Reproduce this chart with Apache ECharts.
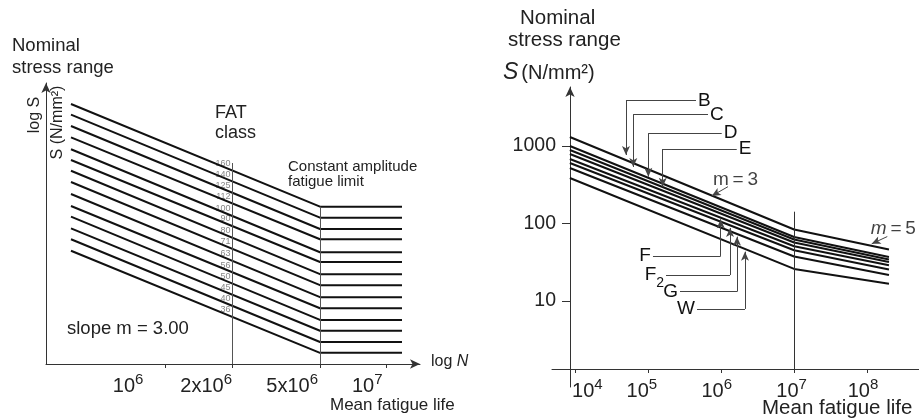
<!DOCTYPE html>
<html><head><meta charset="utf-8">
<script src="https://cdn.jsdelivr.net/npm/echarts@6/dist/echarts.min.js"></script>
<style>html,body{margin:0;padding:0;background:#fff}#c{width:919px;height:419px}</style>
</head><body><div id="c"></div>
<script>
const FONT = 'Liberation Sans, Arial, Helvetica, sans-serif';
const L = Math.log10;

// ---------- Left panel: FAT classes (schematic) ----------
const fatClasses = [160,140,125,112,100,90,80,71,63,56,50,45,40,36];
const fatStartN = 3.74e5;
const fatKneeN = 5e6;
const fatEndN = 1.174e7;
const fatRefN = 2e6;
const fatStartS = [335.7,301.0,268.3,239.0,211.6,189.7,170.1,151.6,134.2,118.7,106.5,94.6,84.6,75.3];
const fatKneeS  = [117.9,105.4,93.9,84.6,74.1,67.1,59.3,53.0,46.9,41.9,37.2,33.3,29.7,26.6];
const leftTickN = [1e6, 2e6, 5e6, 1e7];
const leftTickBase = ['10','2x10','5x10','10'];
const leftTickExp  = ['6','6','6','7'];
const leftLabelShift = [22, 0, 2, 4];   // label nudges (px)
const leftRefLineTopS = 184;   // top of the 2x10^6 reference line

// ---------- Right panel: class curves ----------
const classNames = ['B','C','D','E','F','F2','G','W'];
const curveN = [8.4e3, 1e7, 2e8];
const rightStartS = [1306, 1000, 888, 788, 680, 604, 520, 386];
const rightKneeS  = [83.7, 67.0, 62.2, 56.9, 50.8, 45.1, 37.5, 25.9];
const rightEndS   = [46.2, 37.0, 34.3, 31.8, 28.9, 25.4, 21.6, 16.7];
const rightTickN = [1e4, 1e5, 1e6, 1e7, 1e8];
const rightLabelShift = [24, -13, -9, -5, -8];   // label nudges (px)
const rightTickS = [10, 100, 1000];
const rightKneeLineTopS = 141.9;

// leader lines: vertical at leaderN from tipS to elbowS, then horizontal to endN
const leaderN = [4.94e4, 6.22e4, 1.0e5, 1.578e5, 9.84e5, 1.321e6, 1.648e6, 2.118e6];
const leaderTipS = [765, 536, 402, 298.5, 113.2, 87.5, 67.6, 43.3];
const leaderElbowS = [3842, 2565, 1459, 914, 38.1, 21.6, 13.2, 7.89];
const leaderEndN = [4.51e5, 6.59e5, 1.016e6, 1.633e6, 1.159e5, 1.75e5, 2.72e5, 4.66e5];

// slope annotations
const slopeTextN = [1.57e6, 2.30e8];
const slopeTextS = [364, 86.7];
const slopeFromN = [1.239e6, 1.897e8];
const slopeFromS = [298.5, 67.8];
const slopeTipN = [7.41e5, 1.159e8];
const slopeTipS = [226.5, 54.6];

const leftX = {min: 5.45993, max: 7.15117};
const leftY = {min: 1.3755, max: 2.6188};
const rightX = {min: 3.679, max: 8.713};
const rightY = {min: -0.110, max: 3.761};
const rightAxisOffset = 18;
const gridRH = 300;
const rightXAxisLogS = rightY.min + rightAxisOffset / gridRH * (rightY.max - rightY.min);

function supRich(shifts) {
  const r = {
    b: {fontSize: 20, lineHeight: 28, fontFamily: FONT, color: '#222'},
    s: {fontSize: 15, lineHeight: 12, verticalAlign: 'top', fontFamily: FONT, color: '#222'}
  };
  shifts.forEach(v => { r['w' + Math.abs(v)] = {width: Math.abs(v), fontSize: 10, lineHeight: 28}; });
  return r;
}
function findIdx(arr, v){ for (let i=0;i<arr.length;i++){ if (Math.abs(L(arr[i])-v) < 1e-6) return i; } return -1; }
function spacer(w){ return w ? '{w' + Math.abs(w) + '| }' : ''; }

const series = [];
// left lines
fatClasses.forEach((f, i) => {
  series.push({
    type: 'line', xAxisIndex: 0, yAxisIndex: 0, symbol: 'none', silent: true, z: 3,
    lineStyle: {color: '#111', width: 2},
    data: [[L(fatStartN), L(fatStartS[i])], [L(fatKneeN), L(fatKneeS[i])], [L(fatEndN), L(fatKneeS[i])]]
  });
});
// left reference verticals
series.push({
  type: 'line', xAxisIndex: 0, yAxisIndex: 0, symbol: 'none', silent: true,
  data: [[L(fatRefN), leftY.min]],
  markLine: {
    silent: true, symbol: ['none','none'], label: {show: false}, animation: false,
    lineStyle: {type: 'solid', width: 1, color: '#555'},
    data: [
      [{coord: [L(fatRefN), L(leftRefLineTopS)]}, {coord: [L(fatRefN), leftY.min]}],
      [{coord: [L(fatKneeN), L(fatKneeS[0])]}, {coord: [L(fatKneeN), leftY.min]}]
    ]
  }
});
// left FAT small labels
const tRef = (L(fatRefN) - L(fatStartN)) / (L(fatKneeN) - L(fatStartN));
series.push({
  type: 'scatter', xAxisIndex: 0, yAxisIndex: 0, symbolSize: 1, silent: true,
  itemStyle: {color: 'rgba(0,0,0,0)'},
  data: fatClasses.map((f, i) => [L(fatRefN), L(fatStartS[i]) + tRef * (L(fatKneeS[i]) - L(fatStartS[i]))]),
  label: {show: true, position: 'left', distance: 1, offset: [0, -7],
    formatter: p => String(fatClasses[p.dataIndex]), fontSize: 9, color: '#666', fontFamily: FONT}
});

// right curves
classNames.forEach((c, i) => {
  const vals = [rightStartS[i], rightKneeS[i], rightEndS[i]];
  series.push({
    type: 'line', xAxisIndex: 1, yAxisIndex: 1, symbol: 'none', silent: true, z: 3,
    lineStyle: {color: '#111', width: 2},
    data: curveN.map((n, j) => [L(n), L(vals[j])])
  });
});
// right annotations
const ml = [];
ml.push([{coord: [L(1e7), L(rightKneeLineTopS)], symbol: 'none'}, {coord: [L(1e7), rightXAxisLogS], symbol: 'none', lineStyle: {color: '#333', width: 1}}]);
const labelText = {B:'B', C:'C', D:'D', E:'E', F:'F', F2:'{a|F}{s|2}', G:'G', W:'W'};
classNames.forEach((c, i) => {
  ml.push([{coord: [L(leaderN[i]), L(leaderElbowS[i])], symbol: 'none'}, {coord: [L(leaderN[i]), L(leaderTipS[i])], symbol: 'arrow'}]);
  ml.push([{coord: [L(leaderN[i]), L(leaderElbowS[i])], symbol: 'none',
            label: {show: true, position: 'end', distance: 2, formatter: labelText[c], fontSize: 19, color: '#111', fontFamily: FONT,
              rich: {a: {fontSize: 19, lineHeight: 30, fontFamily: FONT, color: '#111'}, s: {fontSize: 14, lineHeight: 14, verticalAlign: 'bottom', fontFamily: FONT, color: '#111'}}}},
           {coord: [L(leaderEndN[i]), L(leaderElbowS[i])], symbol: 'none'}]);
});
slopeTextN.forEach((t, i) => {
  ml.push([{coord: [L(slopeFromN[i]), L(slopeFromS[i])], symbol: 'none'}, {coord: [L(slopeTipN[i]), L(slopeTipS[i])], symbol: 'arrow'}]);
});
series.push({
  type: 'line', xAxisIndex: 1, yAxisIndex: 1, symbol: 'none', silent: true,
  data: [[L(1e7), 0.5]],
  markLine: {
    silent: true, symbol: ['none','none'], symbolSize: [6, 9], label: {show: false}, animation: false,
    lineStyle: {type: 'solid', width: 1, color: '#444'},
    data: ml
  }
});
series.push({
  type: 'scatter', xAxisIndex: 1, yAxisIndex: 1, symbolSize: 1, silent: true,
  itemStyle: {color: 'rgba(0,0,0,0)'},
  data: slopeTextN.map((t, i) => [L(slopeTextN[i]), L(slopeTextS[i])]),
  label: {show: true, position: 'inside',
    formatter: p => p.dataIndex === 0 ? '{u|m\u2009=\u20093}' : '{i|m}{u|\u2009=\u20095}',
    rich: {u: {fontSize: 19, fontFamily: FONT, color: '#111'}, i: {fontSize: 19, fontStyle: 'italic', fontFamily: FONT, color: '#111'}}}
});

function txt(text, x, y, size, opts) {
  opts = opts || {};
  return Object.assign({
    type: 'text', x: x, y: y, silent: true,
    style: Object.assign({text: text, fontSize: size, fontFamily: FONT, fill: '#222',
      align: opts.align || 'left', textAlign: opts.align || 'left',
      verticalAlign: 'middle', textVerticalAlign: 'middle'}, opts.style || {})
  }, opts.el || {});
}

const graphics = [
  txt('Nominal', 12, 46, 18.5),
  txt('stress range', 12, 68, 18.5),
  txt('log S', 34.5, 115, 16, {align: 'center', el: {rotation: Math.PI / 2}}),
  txt('S (N/mm\u00b2)', 58, 122.5, 16, {align: 'center', el: {rotation: Math.PI / 2}}),
  txt('FAT', 215, 113, 18),
  txt('class', 215, 133, 18),
  txt('Constant amplitude', 288, 167, 15),
  txt('fatigue limit', 288, 181.5, 15),
  txt('slope m = 3.00', 67, 328.5, 18.5),
  txt('Mean fatigue life', 330, 405, 17),
  txt('{r|log }{i|N}', 431, 362, 16, {style: {rich: {r: {fontSize: 16, fontFamily: FONT, fill: '#222'}, i: {fontSize: 16, fontStyle: 'italic', fontFamily: FONT, fill: '#222'}}}}),
  txt('Nominal', 520, 18, 20.5),
  txt('stress range', 508, 40, 20.5),
  txt('{i|S}{r|(N/mm\u00b2)}', 503, 73, 20, {style: {rich: {i: {fontSize: 23, fontStyle: 'italic', fontFamily: FONT, fill: '#222', padding: [0, 3, 0, 0]}, r: {fontSize: 20, fontFamily: FONT, fill: '#222'}}}}),
  txt('Mean fatigue life', 762, 408, 20.5)
];

const option = {
  animation: false,
  backgroundColor: '#fff',
  textStyle: {fontFamily: FONT},
  grid: [
    {left: 46, top: 83, width: 374, height: 281, outerBoundsMode: 'none', containLabel: false},
    {left: 552, top: 87, width: 367, height: gridRH, outerBoundsMode: 'none', containLabel: false}
  ],
  xAxis: [
    {gridIndex: 0, type: 'value', min: leftX.min, max: leftX.max,
      axisLine: {onZero: false, lineStyle: {color: '#333', width: 1}, symbol: ['none', 'arrow'], symbolSize: [7, 10]},
      axisTick: {show: true, customValues: leftTickN.map(L), length: 4, lineStyle: {color: '#333'}},
      axisLabel: {customValues: leftTickN.map(L), align: 'right', margin: 8, rich: supRich(leftLabelShift),
        formatter: v => { const i = findIdx(leftTickN, v); return i < 0 ? '' : '{b|' + leftTickBase[i] + '}{s|' + leftTickExp[i] + '}' + spacer(leftLabelShift[i]); }},
      splitLine: {show: false}},
    {gridIndex: 1, type: 'value', min: rightX.min, max: rightX.max, offset: -rightAxisOffset,
      axisLine: {onZero: false, lineStyle: {color: '#333', width: 1}},
      axisTick: {show: true, customValues: rightTickN.map(L), length: 4, lineStyle: {color: '#333'}},
      axisLabel: {customValues: rightTickN.map(L), align: 'center', margin: 8, rich: supRich(rightLabelShift),
        formatter: v => { const i = findIdx(rightTickN, v); if (i < 0) return ''; const sh = rightLabelShift[i];
          const core = '{b|10}{s|' + Math.round(L(rightTickN[i])) + '}';
          return sh > 0 ? spacer(sh) + core : core + spacer(sh); }},
      splitLine: {show: false}}
  ],
  yAxis: [
    {gridIndex: 0, type: 'value', min: leftY.min, max: leftY.max,
      axisLine: {show: true, onZero: false, lineStyle: {color: '#333', width: 1}, symbol: ['none', 'arrow'], symbolSize: [7, 10]},
      axisTick: {show: false}, axisLabel: {show: false}, splitLine: {show: false}},
    {gridIndex: 1, type: 'value', min: rightY.min, max: rightY.max, offset: -rightAxisOffset,
      axisLine: {show: true, onZero: false, lineStyle: {color: '#333', width: 1}, symbol: ['none', 'arrow'], symbolSize: [7, 10]},
      axisTick: {show: true, customValues: rightTickS.map(L), length: 8, lineStyle: {color: '#333'}},
      axisLabel: {customValues: rightTickS.map(L), margin: 14, fontSize: 19.5, color: '#222', fontFamily: FONT,
        formatter: v => { const i = findIdx(rightTickS, v); return i < 0 ? '' : String(rightTickS[i]); }},
      splitLine: {show: false}}
  ],
  graphic: graphics,
  series: series
};
const chart = echarts.init(document.getElementById('c'));
chart.setOption(option);
</script>
</body></html>
